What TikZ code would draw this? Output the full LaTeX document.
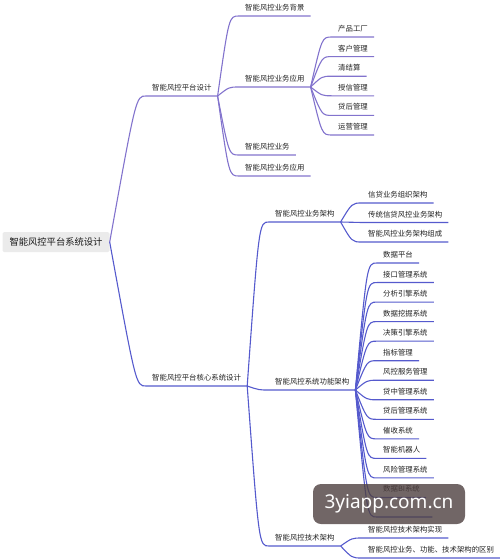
\documentclass[tikz,border=0pt]{standalone}
\usepackage{fontspec}
\setmainfont{Noto Sans CJK SC}
\newfontfamily\wmfont{Noto Sans}
\usetikzlibrary{calc}
\definecolor{topc}{RGB}{130,115,205}
\definecolor{botc}{RGB}{85,90,205}
\definecolor{txt}{RGB}{34,34,34}
\definecolor{wmc}{RGB}{78,64,64}
\tikzset{
  item/.style={anchor=south west, inner xsep=6pt, inner ysep=5.3pt, text height=6pt, text depth=0pt,
    font=\fontsize{7.4}{8}\selectfont, text=txt},
  rootbox/.style={fill=gray!16, rounded corners=1.5pt, inner xsep=7pt, minimum height=20pt,
    font=\fontsize{9.3}{10}\selectfont, text=black!90},
  link/.style={line width=1.1pt},
}
\newcommand\branch[3]{\draw[link,#3] (#1.south east) .. controls ($(#2.south west)+(-10,0)$) .. (#2.south west) -- (#2.south east);}
\begin{document}
\begin{tikzpicture}[x=1pt,y=-1pt]
\useasboundingbox (0,0) rectangle (500,560);
\node[rootbox] (root) at (56,242) {智能风控平台系统设计};
\node[item] (a) at (146,96) {智能风控平台设计};
\node[item] (b) at (146,386) {智能风控平台核心系统设计};
\draw[link,topc] (root.east) .. controls ($(a.south west)+(-10,0)$) .. (a.south west) -- (a.south east);
\draw[link,botc] (root.east) .. controls ($(b.south west)+(-10,0)$) .. (b.south west) -- (b.south east);
% level 2 under a
\node[item] (a1) at (239,16) {智能风控业务背景};
\node[item] (a2) at (239,87) {智能风控业务应用};
\node[item] (a3) at (239,155) {智能风控业务};
\node[item] (a4) at (239,176) {智能风控业务应用};
\foreach \n in {a1,a2,a3,a4} {\branch{a}{\n}{topc}}
\foreach \t [count=\i from 0] in {产品工厂,客户管理,清结算,授信管理,贷后管理,运营管理} {
  \node[item] (c\i) at (332,{37+19.6*\i}) {\t};
  \branch{a2}{c\i}{topc}
}
% level 2 under b
\node[item] (b1) at (269,222) {智能风控业务架构};
\node[item] (b2) at (269,390) {智能风控系统功能架构};
\node[item] (b3) at (269,546) {智能风控技术架构};
\foreach \n in {b1,b2,b3} {\branch{b}{\n}{botc}}
\foreach \t [count=\i from 0] in {信贷业务组织架构,传统信贷风控业务架构,智能风控业务架构组成} {
  \node[item] (d\i) at (362,{203+19.5*\i}) {\t};
  \branch{b1}{d\i}{botc}
}
\foreach \t [count=\i from 0] in {数据平台,接口管理系统,分析引擎系统,数据挖掘系统,决策引擎系统,指标管理,风控服务管理,贷中管理系统,贷后管理系统,催收系统,智能机器人,风险管理系统,数据BI系统} {
  \node[item] (f\i) at (377,{263+19.54*\i}) {\t};
  \branch{b2}{f\i}{botc}
}
\node[item, minimum width=55pt] (f13) at (377,517) {};
\branch{b2}{f13}{botc}
\node[item] (e0) at (362,538) {智能风控技术架构实现};
\node[item] (e1) at (362,558) {智能风控业务、功能、技术架构的区别};
\branch{b3}{e0}{botc}
\branch{b3}{e1}{botc}
% watermark
\node[fill=wmc, fill opacity=0.8, text opacity=1, text=white, rounded corners=8pt,
  minimum width=152pt, minimum height=40pt, font=\wmfont\fontsize{19}{20}\selectfont] (wm) at (389,504) {3yiapp.com.cn};
\end{tikzpicture}
\end{document}
